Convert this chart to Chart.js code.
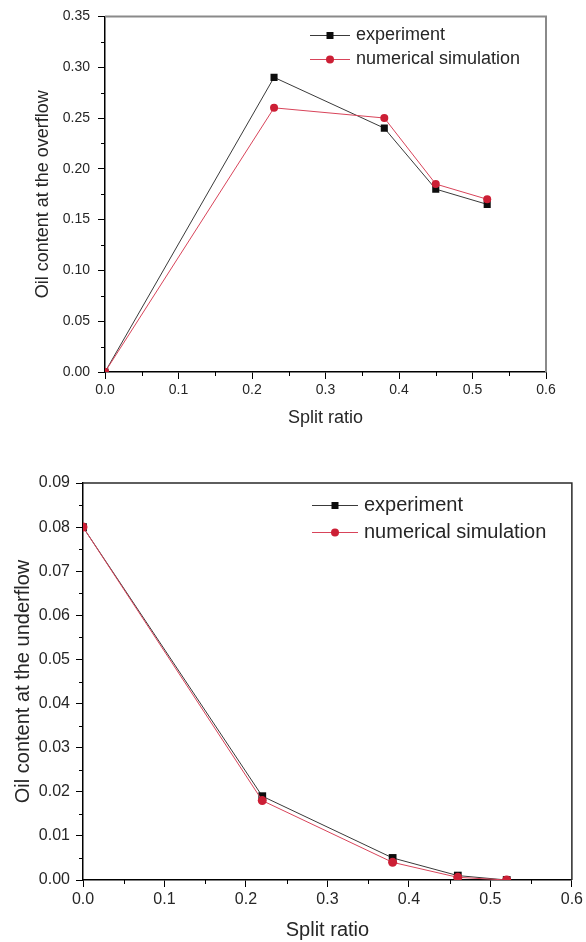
<!DOCTYPE html>
<html><head><meta charset="utf-8">
<script src="https://cdn.jsdelivr.net/npm/chart.js@4/dist/chart.umd.min.js"></script>
<style>
html,body{margin:0;padding:0;background:#fff;width:586px;height:942px;overflow:hidden}
.box{position:absolute;left:0;width:586px}
#b1{top:0;height:440px}
#b2{top:460px;height:482px}
</style></head><body>
<div class="box" id="b1"><canvas id="c1" width="586" height="440"></canvas></div>
<div class="box" id="b2"><canvas id="c2" width="586" height="482"></canvas></div>
<script>
// ---- data ----
const seriesNames = ['experiment', 'numerical simulation'];
const overflowSplit = [0, 0.23, 0.38, 0.45, 0.52];
const overflowExp   = [0, 0.29, 0.24, 0.18, 0.165];
const overflowSim   = [0, 0.26, 0.25, 0.185, 0.17];
const underflowSplit = [0, 0.22, 0.38, 0.46, 0.52];
const underflowExp   = [0.08, 0.019, 0.005, 0.001, 0];
const underflowSim   = [0.08, 0.018, 0.004, 0.0006, 0];
const xTickLabels = ['0.0', '0.1', '0.2', '0.3', '0.4', '0.5', '0.6'];
const overflowYTickLabels = ['0.00', '0.05', '0.10', '0.15', '0.20', '0.25', '0.30', '0.35'];
const underflowYTickLabels = ['0.00', '0.01', '0.02', '0.03', '0.04', '0.05', '0.06', '0.07', '0.08', '0.09'];
const xTitle = 'Split ratio';
const overflowYTitle = 'Oil content at the overflow';
const underflowYTitle = 'Oil content at the underflow';

const FONT = "'Liberation Sans', Arial, sans-serif";
const TXT = '#262626';

function pts(xs, ys) { return xs.map((x, i) => ({x: x, y: ys[i]})); }

const decor = {
  id: 'decor',
  afterDraw(chart, args, o) {
    const {ctx, chartArea: a, scales} = chart;
    ctx.save();
    // frame top & right
    ctx.strokeStyle = o.frameColor; ctx.lineWidth = o.frameWidth;
    ctx.beginPath();
    ctx.moveTo(a.left, a.top); ctx.lineTo(a.right, a.top); ctx.lineTo(a.right, a.bottom);
    ctx.stroke();
    // minor ticks
    ctx.strokeStyle = '#000'; ctx.lineWidth = 1;
    ctx.beginPath();
    const xs = scales.x, ys = scales.y;
    for (let i = 0; i < xs.ticks.length - 1; i++) {
      const v = (xs.ticks[i].value + xs.ticks[i + 1].value) / 2;
      const p = Math.round(xs.getPixelForValue(v)) + 0.5;
      ctx.moveTo(p, a.bottom); ctx.lineTo(p, a.bottom + o.minorLen);
    }
    for (let i = 0; i < ys.ticks.length - 1; i++) {
      const v = (ys.ticks[i].value + ys.ticks[i + 1].value) / 2;
      const p = Math.round(ys.getPixelForValue(v)) + 0.5;
      ctx.moveTo(a.left, p); ctx.lineTo(a.left - o.minorLen, p);
    }
    ctx.stroke();
    // legend
    chart.data.datasets.forEach((ds, i) => {
      const y = o.legendY + i * o.legendGap;
      ctx.strokeStyle = ds.borderColor; ctx.lineWidth = 1;
      ctx.beginPath(); ctx.moveTo(o.legendX, y + 0.5); ctx.lineTo(o.legendX + o.lineLen, y + 0.5); ctx.stroke();
      const cx = o.legendX + o.lineLen / 2;
      ctx.fillStyle = ds.pointBackgroundColor;
      ctx.beginPath();
      if (ds.pointStyle === 'rect') { const s = o.mk; ctx.rect(cx - s, y - s + 0.5, 2 * s, 2 * s); }
      else { ctx.arc(cx, y + 0.5, o.mk + 0.5, 0, Math.PI * 2); }
      ctx.fill();
      ctx.fillStyle = TXT; ctx.font = o.legendFont + 'px ' + FONT;
      ctx.textBaseline = 'middle'; ctx.textAlign = 'left';
      ctx.fillText(ds.label, o.legendX + o.lineLen + o.textGap, y);
    });
    ctx.restore();
  }
};

function makeChart(id, cfg) {
  return new Chart(document.getElementById(id), {
    type: 'line',
    data: {
      datasets: [
        {label: seriesNames[0], data: pts(cfg.xs, cfg.exp), borderColor: '#3a3a3a', borderWidth: 1,
         pointStyle: 'rect', pointRadius: cfg.rectR, pointBackgroundColor: '#0d0d0d', pointBorderColor: '#0d0d0d',
         pointBorderWidth: 0, order: 2, tension: 0},
        {label: seriesNames[1], data: pts(cfg.xs, cfg.sim), borderColor: '#d8445a', borderWidth: 1,
         pointStyle: 'circle', pointRadius: cfg.circR, pointBackgroundColor: '#cc1f35', pointBorderColor: '#cc1f35',
         pointBorderWidth: 0, order: 1, tension: 0}
      ]
    },
    options: {
      responsive: false, animation: false, devicePixelRatio: 1,
      layout: {padding: cfg.pad},
      plugins: {
        legend: {display: false}, tooltip: {enabled: false},
        decor: cfg.decor
      },
      scales: {
        x: {
          type: 'linear', min: 0, max: 0.6,
          afterFit: s => { s.height = cfg.xH; },
          grid: {drawOnChartArea: false, drawTicks: true, tickLength: 7, color: '#000', tickColor: '#000', tickWidth: 1},
          border: {display: true, color: '#000', width: 1.5},
          ticks: {stepSize: 0.1, padding: cfg.xPad, color: TXT, font: {family: FONT, size: cfg.tickFont},
                  maxRotation: 0, autoSkip: false, callback: (v, i) => xTickLabels[i]},
          title: {display: true, text: xTitle, color: TXT, font: {family: FONT, size: cfg.titleFont},
                  padding: {top: 0, bottom: cfg.xTitlePad}}
        },
        y: {
          type: 'linear', min: 0, max: cfg.yMax,
          afterFit: s => { s.width = cfg.yW; },
          grid: {drawOnChartArea: false, drawTicks: true, tickLength: 7, color: '#000', tickColor: '#000', tickWidth: 1},
          border: {display: true, color: '#000', width: 1.5},
          ticks: {stepSize: cfg.yStep, padding: cfg.yPad, color: TXT, font: {family: FONT, size: cfg.tickFont},
                  autoSkip: false, callback: (v, i) => cfg.yLabels[i]},
          title: {display: true, text: cfg.yTitle, color: TXT, font: {family: FONT, size: cfg.titleFont},
                  padding: {top: cfg.yTitlePad, bottom: 0}}
        }
      }
    },
    plugins: [decor]
  });
}

makeChart('c1', {
  xs: overflowSplit, exp: overflowExp, sim: overflowSim,
  rectR: 5, circR: 4,
  pad: {left: 0, right: 40, top: 15, bottom: 0},
  xH: 68, yW: 105, xPad: 3, yPad: 8, tickFont: 14, titleFont: 18,
  xTitlePad: 11, yTitlePad: 32, yMax: 0.35, yStep: 0.05,
  yLabels: overflowYTickLabels, yTitle: overflowYTitle,
  decor: {frameColor: '#8a8a8a', frameWidth: 2, minorLen: 4, legendX: 310, legendY: 35, legendGap: 24,
          lineLen: 40, textGap: 6, mk: 3.5, legendFont: 18}
});

makeChart('c2', {
  xs: underflowSplit, exp: underflowExp, sim: underflowSim,
  rectR: 5.5, circR: 4.5,
  pad: {left: 0, right: 12, top: 23, bottom: 0},
  xH: 62, yW: 83, xPad: 3, yPad: 6, tickFont: 16, titleFont: 20,
  xTitlePad: 0, yTitlePad: 11, yMax: 0.09, yStep: 0.01,
  yLabels: underflowYTickLabels, yTitle: underflowYTitle,
  decor: {frameColor: '#2a2a2a', frameWidth: 1.5, minorLen: 4, legendX: 312, legendY: 45, legendGap: 27,
          lineLen: 46, textGap: 6, mk: 3.5, legendFont: 20}
});
</script>
</body></html>
